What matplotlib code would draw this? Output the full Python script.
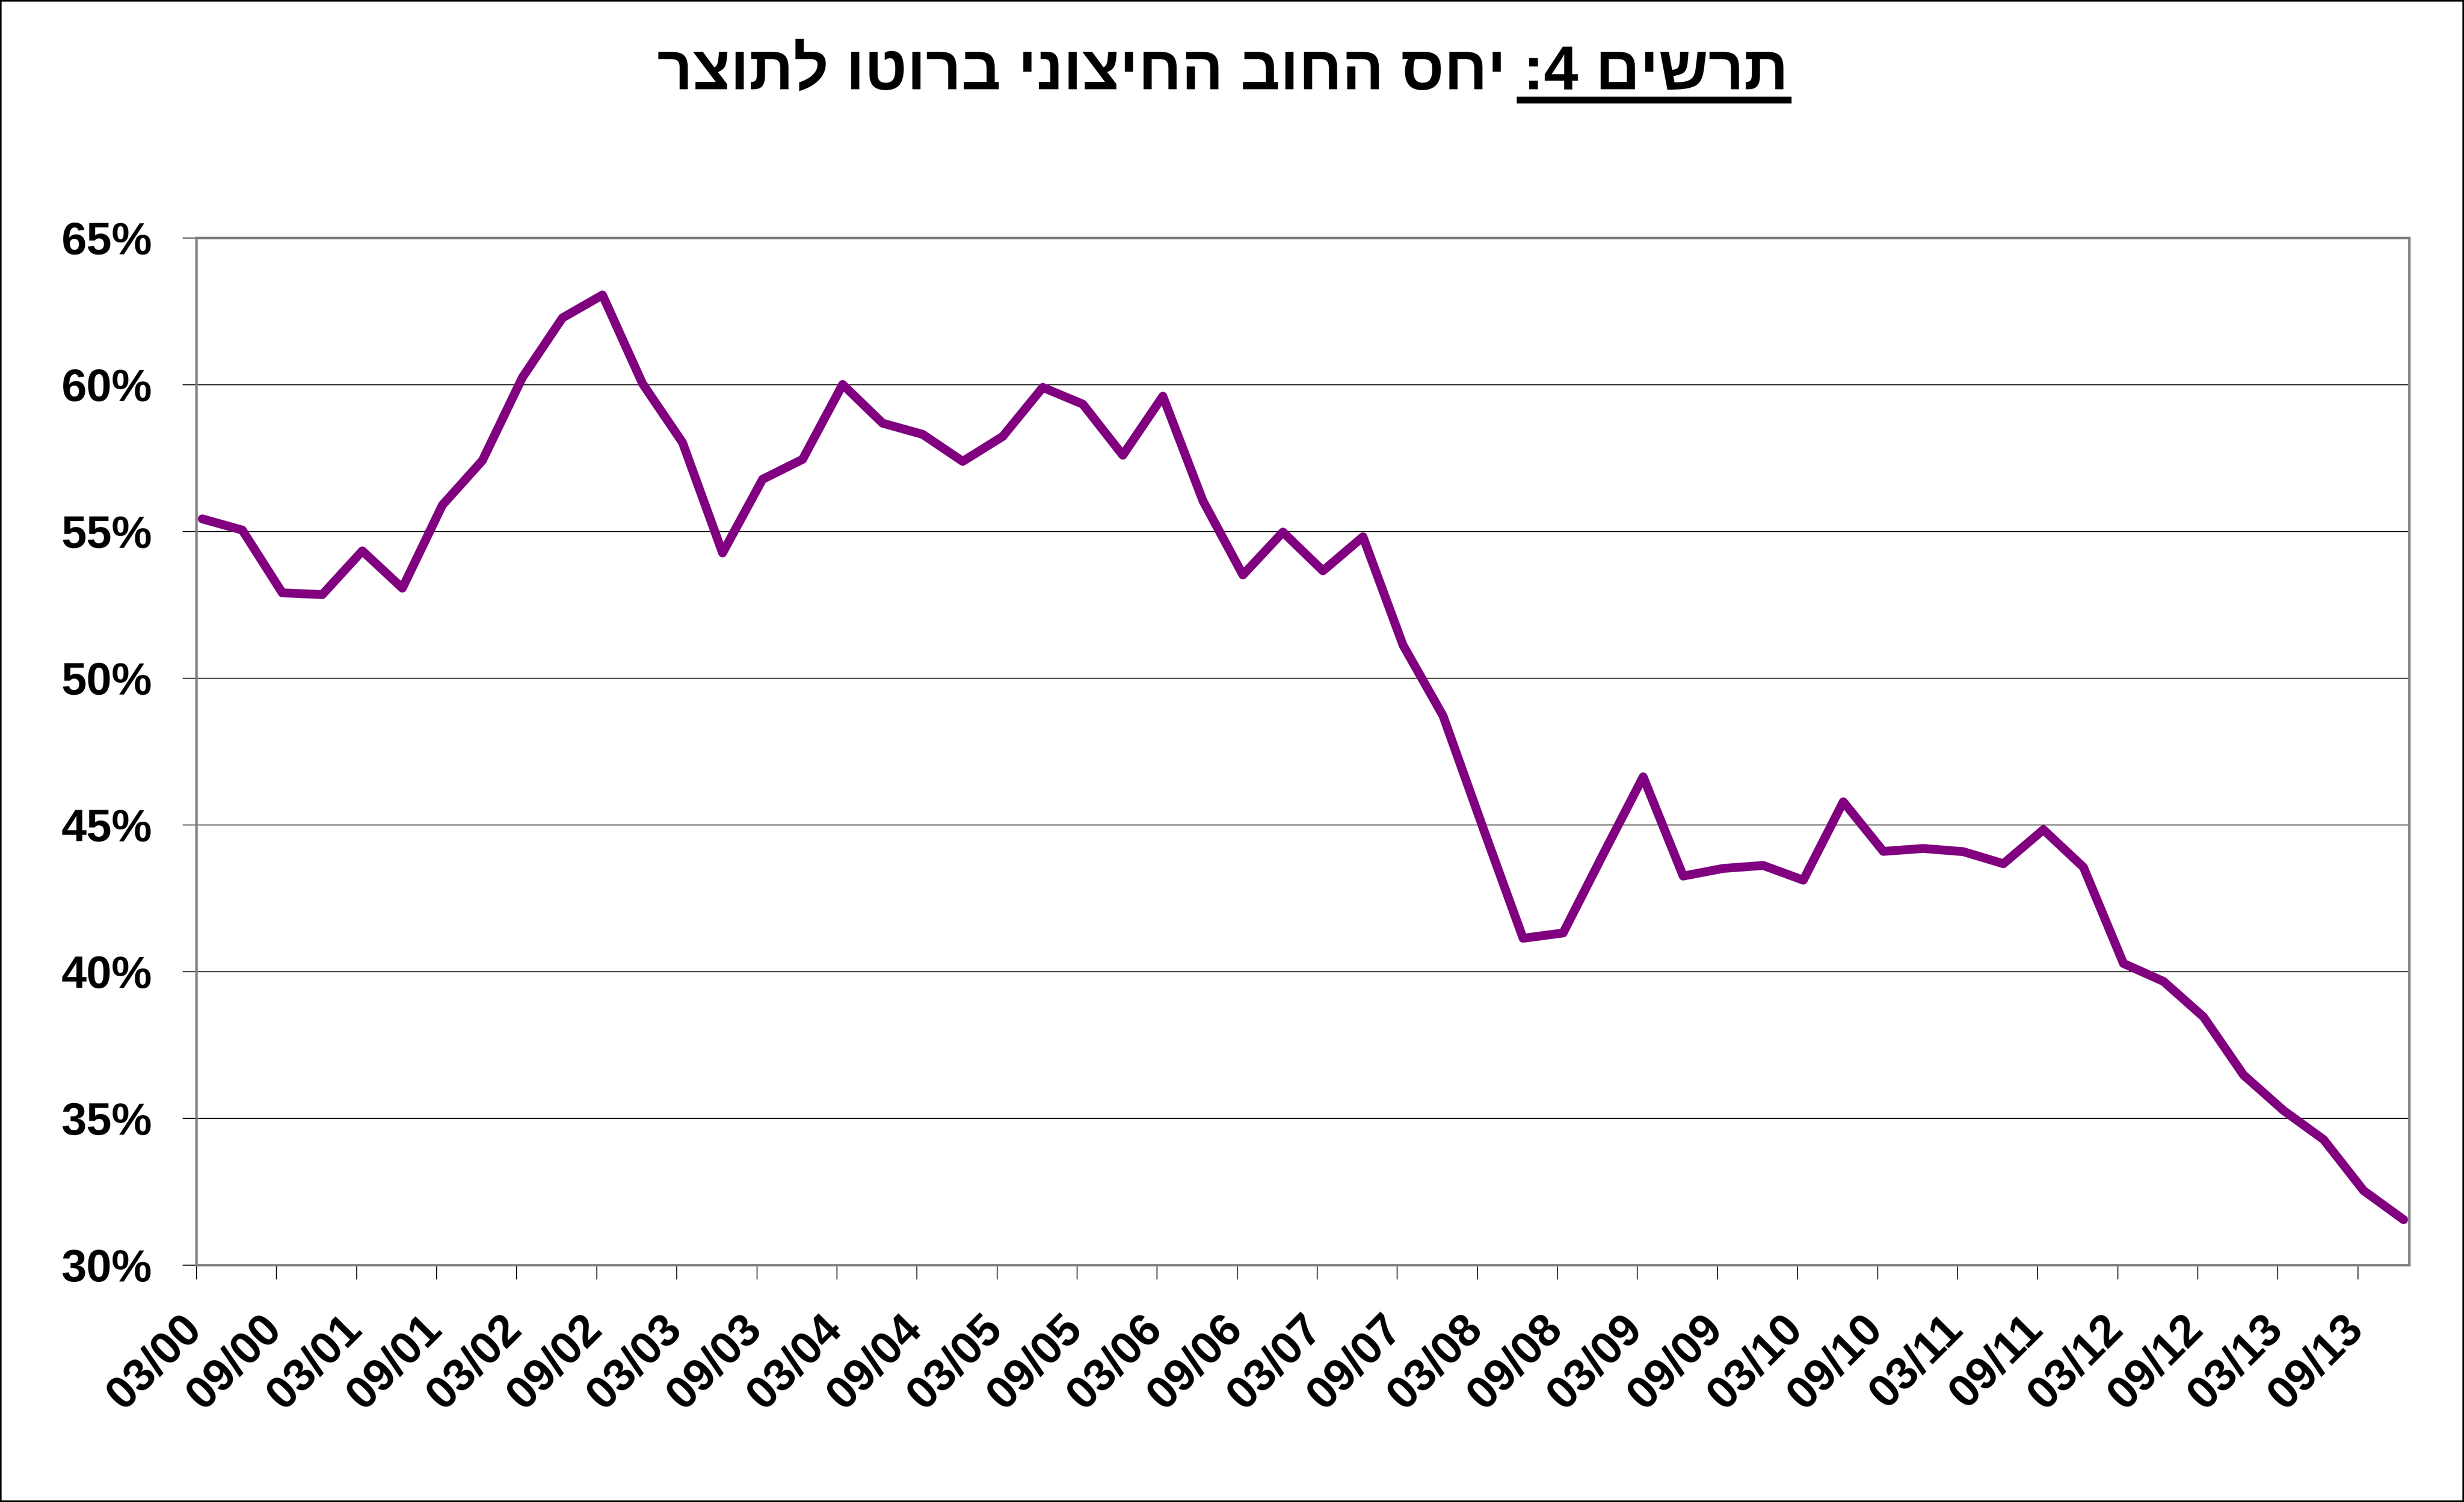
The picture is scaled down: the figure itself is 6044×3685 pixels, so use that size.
import matplotlib
matplotlib.use("Agg")
import matplotlib.pyplot as plt
from matplotlib.ticker import PercentFormatter
from matplotlib.transforms import ScaledTranslation
from matplotlib.lines import Line2D
from matplotlib.patches import Rectangle

plt.rcParams['font.family'] = ['Liberation Sans', 'DejaVu Sans']
plt.rcParams['font.weight'] = 'bold'

# external debt to GDP, quarterly 03/00 .. 12/13 (percent)
debt_ratio = [
    55.43, 55.05, 52.91, 52.85, 54.34, 53.07, 55.90, 57.42,
    60.25, 62.28, 63.06, 60.04, 58.03, 54.27, 56.78, 57.46,
    60.01, 58.69, 58.31, 57.39, 58.24, 59.91, 59.34, 57.60,
    59.61, 56.05, 53.52, 54.98, 53.66, 54.82, 51.13, 48.72,
    44.90, 41.14, 41.32, 44.00, 46.64, 43.26, 43.52, 43.62,
    43.12, 45.79, 44.10, 44.20, 44.09, 43.68, 44.84, 43.56,
    40.28, 39.67, 38.46, 36.48, 35.27, 34.28, 32.54, 31.55,
]
tick_labels = [
    "03/00", "09/00", "03/01", "09/01", "03/02", "09/02", "03/03",
    "09/03", "03/04", "09/04", "03/05", "09/05", "03/06", "09/06",
    "03/07", "09/07", "03/08", "09/08", "03/09", "09/09", "03/10",
    "09/10", "03/11", "09/11", "03/12", "09/12", "03/13", "09/13",
]
title_num = "תרשים 4:"
title_main = "יחס החוב החיצוני ברוטו לתוצר"

DPI = 400
fig = plt.figure(figsize=(15.11, 9.2125), dpi=DPI)
ax = fig.add_axes([0.07975, 0.15767, 0.89808, 0.68385])

quarters = list(range(len(debt_ratio)))
shift = 0.143  # ticks sit slightly left of the data points
ax.plot(quarters, debt_ratio, color='#800080', lw=3.9,
        solid_joinstyle='round', solid_capstyle='round', zorder=3)

ax.set_xlim(-shift, len(debt_ratio) - 1 + shift)
ax.set_ylim(30, 65)
ax.set_yticks(range(30, 66, 5))
ax.yaxis.set_major_formatter(PercentFormatter(xmax=100, decimals=0))
ax.set_xticks([2 * k - shift for k in range(len(tick_labels))])
ax.set_xticklabels(tick_labels, rotation=45, ha='right', va='top')

ax.grid(axis='y', color='black', lw=0.4)
ax.set_axisbelow(True)
for side in ['top', 'right', 'left', 'bottom']:
    ax.spines[side].set_color('#808080')
    ax.spines[side].set_linewidth(1.1)

ax.tick_params(axis='y', direction='out', length=6.1, width=0.4, pad=13.5,
               labelsize=20, colors='black')
ax.tick_params(axis='x', direction='out', length=6.3, width=0.4, pad=12.4,
               labelsize=20, colors='black')
offset = ScaledTranslation(33 / DPI, 0, fig.dpi_scale_trans)
for lbl in ax.get_xticklabels():
    lbl.set_transform(lbl.get_transform() + offset)
    lbl.set_fontweight('bold')
for lbl in ax.get_yticklabels():
    lbl.set_fontweight('bold')

# title, hebrew written right-to-left so the string is reversed for drawing
full_title = (title_num + " " + title_main)[::-1]
base_y = 1 - 220 / 3685
t = fig.text(0.4962, base_y, full_title, ha='center', va='baseline',
             fontsize=27.3, fontweight='bold')
renderer = fig.canvas.get_renderer()
bb = t.get_window_extent(renderer)
tmp = fig.text(0, 0, title_num[::-1], fontsize=27.3, fontweight='bold')
w = tmp.get_window_extent(renderer).width
tmp.remove()
y_line = base_y * fig.bbox.height - 24.5
fig.add_artist(Line2D([bb.x1 - w - 16, bb.x1 + 8], [y_line, y_line],
                      transform=None, color='black', lw=3.0,
                      solid_capstyle='butt'))

fig.patches.append(Rectangle((0, 0), 1, 1, transform=fig.transFigure,
                             fill=False, edgecolor='black', lw=1.4))

fig.savefig('out.png', dpi=DPI)
